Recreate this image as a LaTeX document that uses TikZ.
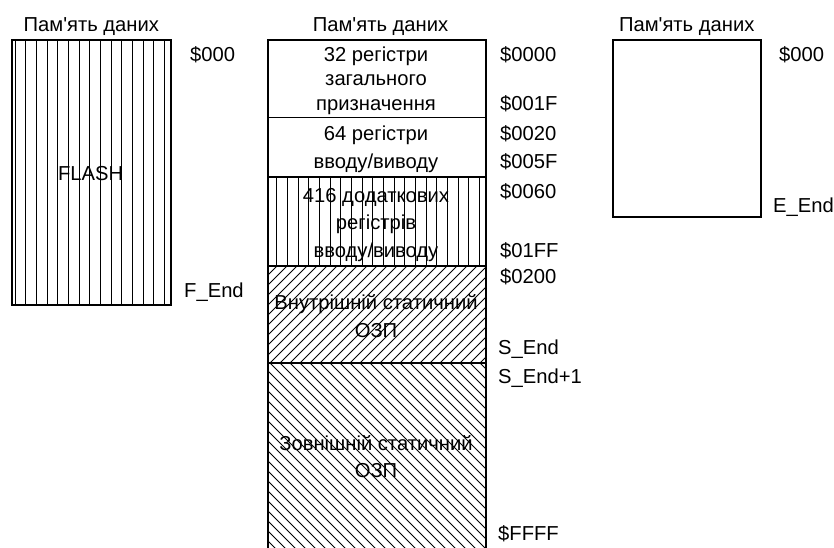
\documentclass[tikz,border=0pt]{standalone}
\usepackage{fontspec}
\setmainfont{Liberation Sans}
\begin{document}
\begin{tikzpicture}[x=1pt,y=-1pt,
  txt/.style={font=\fontsize{20.2}{24}\selectfont, inner sep=0pt, anchor=base},
  lbl/.style={txt, anchor=base west},
  border/.style={line width=1.2pt},
  hatch/.style={line width=0.8pt}]
\useasboundingbox (0,0) rectangle (834,547);

% ---------- left: FLASH ----------
\begin{scope}
  \clip (12,40) rectangle (171,305);
  \foreach \x in {15,25.67,...,170} \draw[hatch] (\x,40) -- (\x,305);
\end{scope}
\draw[border] (12,40) rectangle (171,305);
\node[txt] (t1) at (91.3,31) {Пам\textquotesingle ять даних};
\node[txt] (flash) at (90.7,180) {FLASH};
\node[lbl] (a1) at (190,61) {\$000};
\node[lbl] (fend) at (184,297) {F\_End};

% ---------- middle ----------
\begin{scope}
  \clip (268,177) rectangle (486,266);
  \foreach \x in {276.7,287.37,...,485} \draw[hatch] (\x,177) -- (\x,266);
\end{scope}
\begin{scope}
  \clip (268,266) rectangle (486,363);
  \foreach \x in {170,180,...,490} \draw[hatch] (\x,363) -- ++(110,-110);
\end{scope}
\begin{scope}
  \clip (268,363) rectangle (486,550);
  \foreach \x in {60,70,...,490} \draw[hatch] (\x,363) -- ++(200,200);
\end{scope}
\draw[border] (268,40) rectangle (486,550);
\draw[border] (268,117.5) -- (486,117.5);
\draw[border] (268,177) -- (486,177);
\draw[border] (268,266) -- (486,266);
\draw[border] (268,363) -- (486,363);

\node[txt] (t2) at (380.5,31) {Пам\textquotesingle ять даних};
\node[txt] (r1a) at (376,61) {32 регістри};
\node[txt] (r1b) at (376,85.5) {загального};
\node[txt] (r1c) at (376,110) {призначення};
\node[txt] (r2a) at (376,140) {64 регістри};
\node[txt] (r2b) at (376,168) {вводу/виводу};
\node[txt] (r3a) at (376,202) {416 додаткових};
\node[txt] (r3b) at (376,229.5) {регістрів};
\node[txt] (r3c) at (376,257) {вводу/виводу};
\node[txt] (r4a) at (376,309) {Внутрішній статичний};
\node[txt] (r4b) at (376,337) {ОЗП};
\node[txt] (r5a) at (376,450) {Зовнішній статичний};
\node[txt] (r5b) at (376,477) {ОЗП};

\node[lbl] (m1) at (500,61) {\$0000};
\node[lbl] (m2) at (500,110) {\$001F};
\node[lbl] (m3) at (500,140) {\$0020};
\node[lbl] (m4) at (500,168) {\$005F};
\node[lbl] (m5) at (500,198) {\$0060};
\node[lbl] (m6) at (500,257) {\$01FF};
\node[lbl] (m7) at (500,283) {\$0200};
\node[lbl] (m8) at (498,354) {S\_End};
\node[lbl] (m9) at (498,383) {S\_End+1};
\node[lbl] (m10) at (498,540) {\$FFFF};

% ---------- right ----------
\draw[border] (613,40) rectangle (761,217);
\node[txt] (t3) at (686.7,31) {Пам\textquotesingle ять даних};
\node[lbl] (e1) at (779,61) {\$000};
\node[lbl] (eend) at (773,212) {E\_End};
\end{tikzpicture}
\end{document}
